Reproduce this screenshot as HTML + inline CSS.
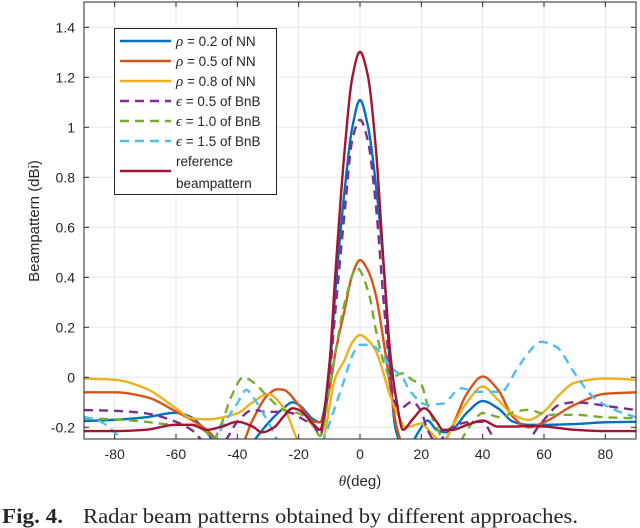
<!DOCTYPE html>
<html><head><meta charset="utf-8"><style>
html,body{margin:0;padding:0;background:#fff;width:640px;height:528px;overflow:hidden}
svg{display:block}
text{font-family:"Liberation Sans",Arial,sans-serif;fill:#262626}
</style></head><body>
<svg id="chart" width="640" height="528" viewBox="0 0 640 528" xmlns="http://www.w3.org/2000/svg">
<defs><clipPath id="clip"><rect x="84" y="2" width="552" height="437"/></clipPath></defs>
<g id="grid"></g>
<g id="series" clip-path="url(#clip)"></g>
<rect x="84" y="2" width="552" height="437" fill="none" stroke="#262626" stroke-width="1"/>
<g id="ticks"></g>
<text transform="translate(39,221) rotate(-90)" text-anchor="middle" font-size="15">Beampattern (dBi)</text>
<text x="360" y="486" text-anchor="middle" font-size="15"><tspan font-family="Liberation Serif" font-style="italic">θ</tspan>(deg)</text>
<text x="2" y="523" font-size="21" font-weight="bold" textLength="61" lengthAdjust="spacingAndGlyphs" style="font-family:'Liberation Serif',serif" fill="#000">Fig. 4.</text>
<text x="83" y="523" font-size="21" textLength="495" lengthAdjust="spacingAndGlyphs" style="font-family:'Liberation Serif',serif" fill="#000">Radar beam patterns obtained by different approaches.</text>
<g id="legend"></g>
</svg>
<script>
const xTicks=[-80,-60,-40,-20,0,20,40,60,80];
const yTicks=[-0.2,0,0.2,0.4,0.6,0.8,1,1.2,1.4];
const degBlue=[-90,-80,-70,-60,-55,-50,-45,-40,-35,-30,-25,-22,-20,-15,-13,-10,-8,-5,-2.5,0,2.5,5,8,10,11.5,15,19,22,25,28,30,35,40,45,50,55,60,70,80,90];
const valBlue=[-0.175,-0.17,-0.16,-0.142,-0.16,-0.22,-0.3,-0.33,-0.26,-0.184,-0.124,-0.1,-0.11,-0.17,-0.18,0.02,0.35,0.75,1.0,1.109,1.01,0.79,0.4,0.0,-0.2,-0.3,-0.22,-0.173,-0.21,-0.22,-0.21,-0.14,-0.095,-0.124,-0.178,-0.19,-0.19,-0.187,-0.18,-0.178];
const degOrange=[-90,-80,-70,-60,-50,-45,-40,-35,-30,-27,-25,-20,-15,-13,-10,-8,-5,-2.5,0,2.5,5,8,10,12,15,20,25,28,30,35,40,45,50,55,60,70,80,90];
const valOrange=[-0.06,-0.06,-0.078,-0.137,-0.21,-0.27,-0.3,-0.17,-0.07,-0.048,-0.05,-0.11,-0.177,-0.18,-0.05,0.1,0.27,0.41,0.469,0.43,0.337,0.12,-0.05,-0.2,-0.3,-0.32,-0.3,-0.25,-0.2,-0.063,0.003,-0.05,-0.16,-0.2,-0.18,-0.11,-0.066,-0.06];
const degYellow=[-90,-80,-70,-60,-55,-50,-40,-35,-30,-25,-20,-15,-12,-8,-5,-2.5,0,2.5,5,10,12,15,20,23,27,30,35,40,45,50,55,60,65,70,80,90];
const valYellow=[-0.005,-0.01,-0.044,-0.124,-0.164,-0.168,-0.144,-0.1,-0.067,-0.12,-0.26,-0.35,-0.25,0.0,0.07,0.14,0.169,0.15,0.109,-0.078,-0.14,-0.2,-0.185,-0.22,-0.26,-0.2,-0.098,-0.037,-0.09,-0.15,-0.17,-0.137,-0.07,-0.022,-0.005,-0.01];
const degPurple=[-90,-80,-70,-60,-55,-50,-45,-40,-35,-30,-25,-22,-20,-15,-13,-10,-8,-5,-2.5,0,2.5,5,8,10,11,13,17,20,22,25,30,35,40,43,45,50,55,58,60,65,70,75,80,90];
const valPurple=[-0.131,-0.134,-0.144,-0.178,-0.21,-0.26,-0.26,-0.178,-0.131,-0.138,-0.138,-0.144,-0.158,-0.197,-0.23,0.0,0.27,0.66,0.95,1.03,0.95,0.71,0.26,0.0,-0.09,-0.125,-0.098,-0.138,-0.21,-0.26,-0.2,-0.18,-0.178,-0.23,-0.26,-0.28,-0.25,-0.2,-0.17,-0.11,-0.1,-0.105,-0.114,-0.131];
const degGreen=[-90,-80,-70,-60,-55,-50,-48,-45,-42,-38,-35,-30,-25,-20,-15,-13,-10,-8,-5,-1,3,5,8,10,14,17,20,22,25,30,35,38,40,46,50,55,61,70,80,90];
const valGreen=[-0.164,-0.168,-0.178,-0.19,-0.19,-0.22,-0.25,-0.18,-0.078,0.0,-0.018,-0.078,-0.13,-0.144,-0.197,-0.235,-0.05,0.1,0.297,0.437,0.33,0.2,0.05,0.0,0.016,-0.01,-0.03,-0.11,-0.2,-0.3,-0.21,-0.16,-0.143,-0.16,-0.14,-0.13,-0.15,-0.15,-0.16,-0.164];
const degCyan=[-90,-85,-80,-75,-70,-60,-50,-45,-40,-37,-35,-30,-27,-20,-12,-9,-5.5,-2,0,3,5,7.6,10,14,16,22,27,33,38,46,51,55,59,64,70,76,83,90];
const valCyan=[-0.158,-0.175,-0.22,-0.28,-0.33,-0.4,-0.33,-0.2,-0.104,-0.05,-0.078,-0.178,-0.25,-0.4,-0.25,-0.15,-0.024,0.1,0.13,0.13,0.12,0.083,0.042,-0.003,-0.05,-0.11,-0.105,-0.044,-0.058,-0.058,0.029,0.1,0.142,0.122,0.016,-0.078,-0.13,-0.16];
const degRed=[-90,-80,-70,-60,-55,-50,-45,-40,-35,-32,-28,-25,-22,-20,-15,-13,-10,-8,-5,-2.5,0,2.5,5,8,10,12,14,17,21,25,27,30,35,40,45,50,55,60,70,80,90];
const valRed=[-0.215,-0.215,-0.21,-0.19,-0.19,-0.21,-0.197,-0.178,-0.197,-0.22,-0.2,-0.158,-0.124,-0.13,-0.19,-0.21,0.05,0.42,0.91,1.2,1.302,1.21,0.94,0.4,0.08,-0.1,-0.21,-0.17,-0.124,-0.178,-0.21,-0.21,-0.19,-0.173,-0.197,-0.197,-0.195,-0.197,-0.21,-0.215,-0.215];
const seriesLabels=["= 0.2 of NN","= 0.5 of NN","= 0.8 of NN","= 0.5 of BnB","= 1.0 of BnB","= 1.5 of BnB","reference"];

const NS="http://www.w3.org/2000/svg";
const X0=84,X1=636;
function xScale(d){return X0+(d+90)/180*(X1-X0);}
function yScale(v){return 377.3-250*v;}
function mk(tag,attrs,parent){const e=document.createElementNS(NS,tag);for(const k in attrs)e.setAttribute(k,attrs[k]);parent.appendChild(e);return e;}

const grid=document.getElementById('grid'),ticks=document.getElementById('ticks');
xTicks.forEach(t=>{
  const gx=xScale(t);
  const gl=mk('line',{x1:gx,x2:gx,y1:2,y2:439,stroke:'#e6e6e6','stroke-width':1},grid);
  
  
  mk('line',{x1:gx,x2:gx,y1:439,y2:434,stroke:'#262626'},ticks);
  mk('line',{x1:gx,x2:gx,y1:2,y2:7,stroke:'#262626'},ticks);
  const tl=mk('text',{x:gx,y:459,'text-anchor':'middle','font-size':14},ticks);
  tl.textContent=t;
  
  
});
yTicks.forEach(t=>{
  const gy=yScale(t);
  const gl=mk('line',{x1:X0,x2:X1,y1:gy,y2:gy,stroke:'#e6e6e6','stroke-width':1},grid);
  
  
  mk('line',{x1:X0,x2:X0+5,y1:gy,y2:gy,stroke:'#262626'},ticks);
  mk('line',{x1:X1,x2:X1-5,y1:gy,y2:gy,stroke:'#262626'},ticks);
  const tl=mk('text',{x:75,y:gy+5,'text-anchor':'end','font-size':14},ticks);
  tl.textContent=(Math.round(t*10)/10).toString();
  
  
});

function monotone(xs,ys){
  const n=xs.length,d=[],m=new Array(n);
  for(let i=0;i<n-1;i++)d.push((ys[i+1]-ys[i])/(xs[i+1]-xs[i]));
  m[0]=d[0];m[n-1]=d[n-2];
  for(let i=1;i<n-1;i++){
    if(d[i-1]*d[i]<=0)m[i]=0;
    else{const w1=2*(xs[i+1]-xs[i])+(xs[i]-xs[i-1]),w2=(xs[i+1]-xs[i])+2*(xs[i]-xs[i-1]);m[i]=(w1+w2)/(w1/d[i-1]+w2/d[i]);}
  }
  const pts=[];
  for(let i=0;i<n-1;i++){
    const h=xs[i+1]-xs[i],steps=Math.max(4,Math.ceil(h*4));
    for(let s=0;s<steps;s++){
      const t=s/steps,t2=t*t,t3=t2*t;
      const v=(2*t3-3*t2+1)*ys[i]+(t3-2*t2+t)*h*m[i]+(-2*t3+3*t2)*ys[i+1]+(t3-t2)*h*m[i+1];
      pts.push([xs[i]+t*h,v]);
    }
  }
  pts.push([xs[n-1],ys[n-1]]);
  return pts;
}
const sg=document.getElementById('series');
function drawSeries(xs,ys,color,dash,name){
  const pts=monotone(xs,ys);
  const d='M'+pts.map(p=>xScale(p[0]).toFixed(2)+','+yScale(p[1]).toFixed(2)).join('L');
  const p=mk('path',{d:d,fill:'none',stroke:color,'stroke-width':2.4,'stroke-linejoin':'round'},sg);
  if(dash)p.setAttribute('stroke-dasharray','9,6');
  
  
}
drawSeries(degBlue,valBlue,'#0072BD',false,'series-rho-0.2');
drawSeries(degOrange,valOrange,'#D95319',false,'series-rho-0.5');
drawSeries(degYellow,valYellow,'#EDB120',false,'series-rho-0.8');
drawSeries(degPurple,valPurple,'#7E2F8E',true,'series-eps-0.5');
drawSeries(degGreen,valGreen,'#77AC30',true,'series-eps-1.0');
drawSeries(degCyan,valCyan,'#4DBEEE',true,'series-eps-1.5');
drawSeries(degRed,valRed,'#A2142F',false,'series-reference');

const lg=document.getElementById('legend');
const lb=mk('rect',{x:114.5,y:28.5,width:162,height:166,fill:'#fff',stroke:'#262626','stroke-width':1},lg);


const lcolors=['#0072BD','#D95319','#EDB120','#7E2F8E','#77AC30','#4DBEEE','#A2142F'];
const lsyms=['ρ','ρ','ρ','ϵ','ϵ','ϵ',''];
const lys=[41,61,81,101,121,141,171];
seriesLabels.forEach((lab,i)=>{
  const ly=lys[i];
  const ln=mk('line',{x1:120,x2:171,y1:ly,y2:ly,stroke:lcolors[i],'stroke-width':2.4},lg);
  if(i>=3&&i<=5)ln.setAttribute('stroke-dasharray','9,6');
  
  
  if(i<6){
    const tx=mk('text',{x:176,y:ly+5,'font-size':13.5},lg);
    
    
    const sy=mk('tspan',{'font-family':'Liberation Serif','font-style':'italic','font-size':15},tx);
    sy.textContent=lsyms[i];
    const rest=mk('tspan',{},tx);
    rest.textContent=' '+lab;
  }else{
    const t1=mk('text',{x:176,y:166,'font-size':13.5},lg);
    t1.textContent='reference';
    
    
    const t2=mk('text',{x:176,y:188,'font-size':13.5},lg);
    t2.textContent='beampattern';
    
    
  }
});
</script>
</body></html>
